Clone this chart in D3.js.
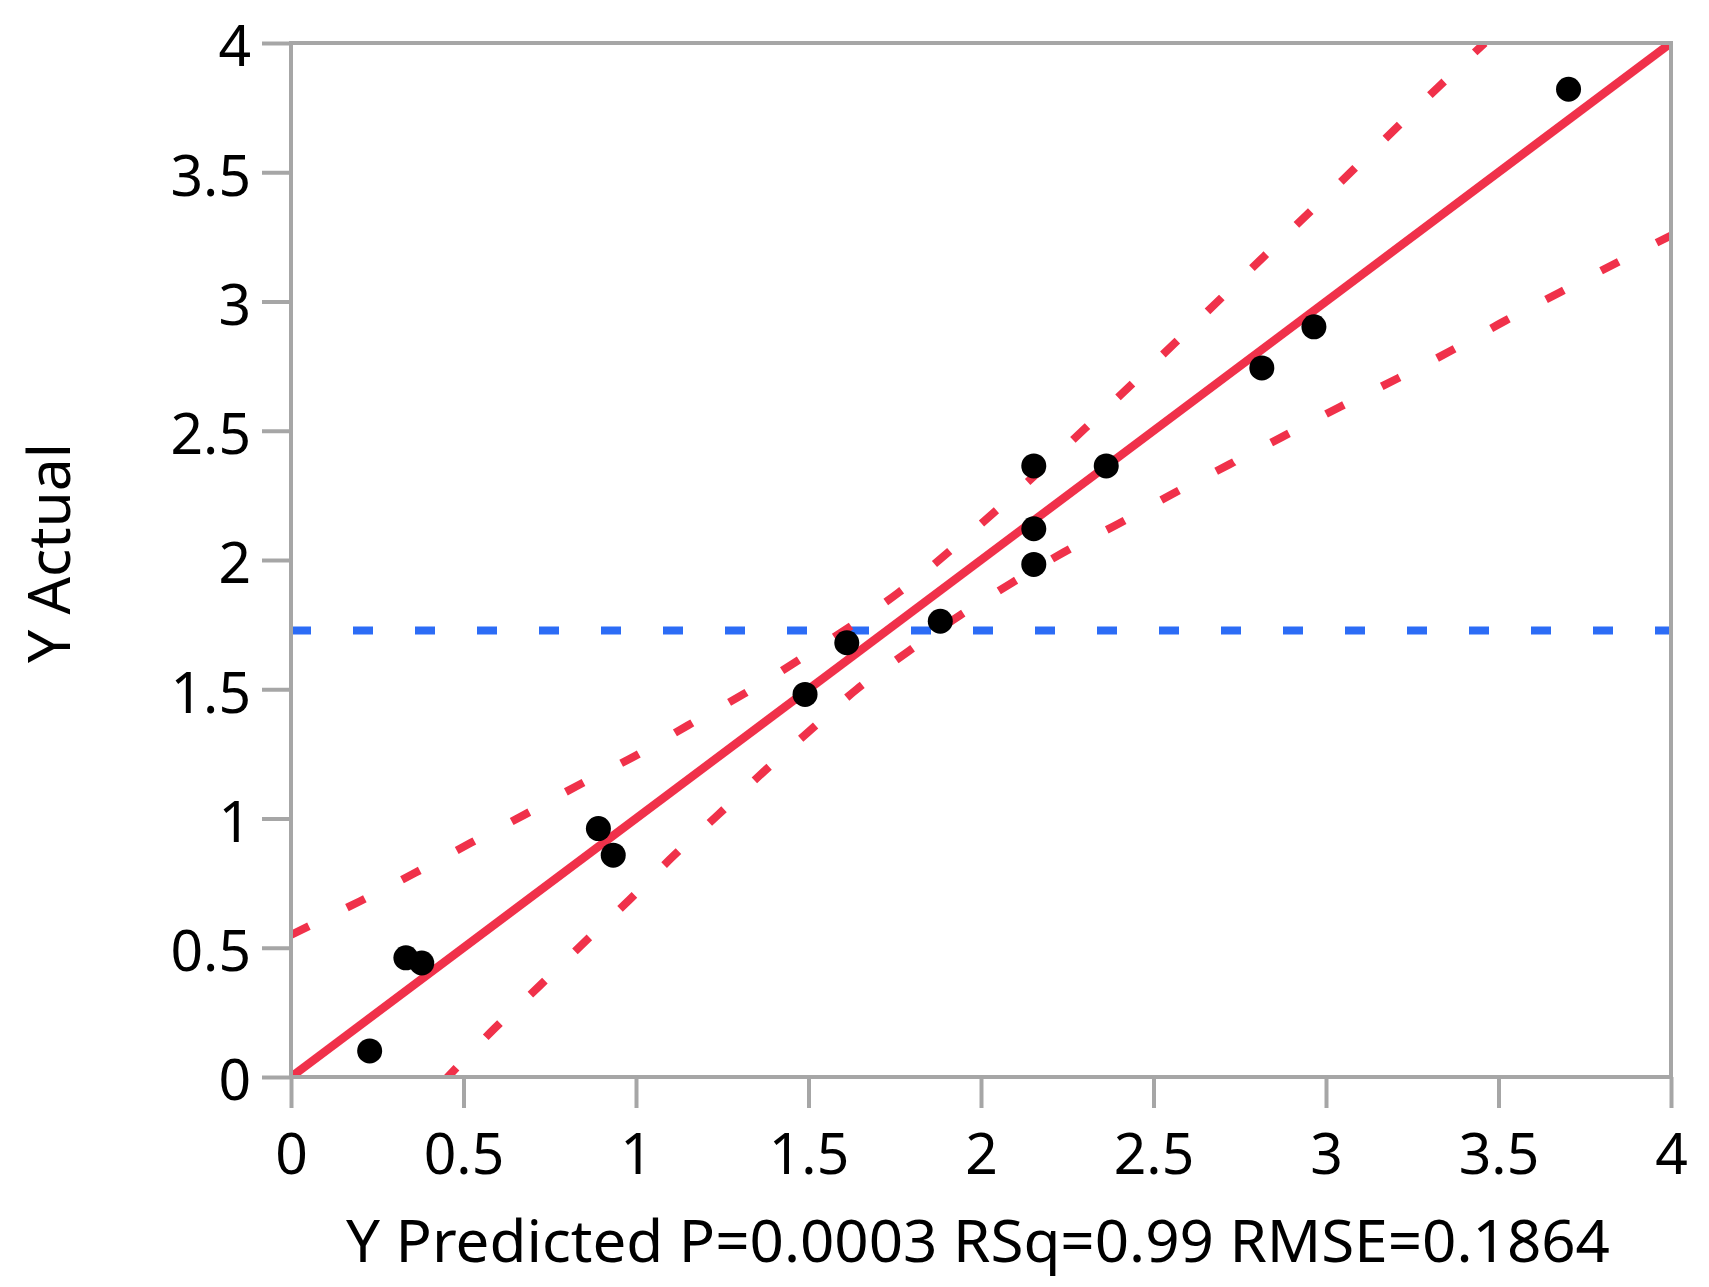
<!DOCTYPE html>
<html>
<head>
<meta charset="utf-8">
<script src="https://cdn.jsdelivr.net/npm/d3@7"></script>
<style>
  body { margin: 0; background: #fff; }
  text { font-family: "Noto Sans", "Open Sans", sans-serif; fill: #000; }
</style>
</head>
<body>
<script>
// actual by predicted plot (JMP style)

// ---- data ----
var predicted = [0.228, 0.333, 0.379, 0.891, 0.934, 1.490, 1.611, 1.882, 2.153, 2.153, 2.153, 2.363, 2.814, 2.965, 3.703];
var actual    = [0.101, 0.461, 0.441, 0.961, 0.858, 1.480, 1.680, 1.763, 2.364, 2.121, 1.983, 2.364, 2.743, 2.902, 3.821];

var meanActual = 1.727;

var fitX = [0, 4];
var fitY = [0, 4];

var upperX = [0.00, 0.20, 0.36, 0.52, 0.68, 0.83, 1.00, 1.15, 1.31, 1.46, 1.76, 2.04, 2.30, 2.56, 2.82, 3.08, 3.34, 3.46];
var upperY = [0.55, 0.68, 0.79, 0.905, 1.017, 1.127, 1.244, 1.36, 1.48, 1.603, 1.873, 2.187, 2.507, 2.837, 3.174, 3.511, 3.848, 4.00];

var lowerX = [0.44, 0.59, 0.72, 0.85, 0.98, 1.11, 1.24, 1.37, 1.51, 1.64, 1.79, 1.94, 2.24, 2.40, 2.56, 2.72, 2.88, 3.04, 3.21, 3.37, 3.52, 3.68, 3.84, 4.00];
var lowerY = [-0.02, 0.188, 0.352, 0.521, 0.684, 0.857, 1.017, 1.181, 1.347, 1.50, 1.647, 1.787, 2.03, 2.141, 2.259, 2.37, 2.481, 2.592, 2.704, 2.815, 2.926, 3.037, 3.148, 3.255];

var xTicks = [0, 0.5, 1, 1.5, 2, 2.5, 3, 3.5, 4];
var yTicks = [0, 0.5, 1, 1.5, 2, 2.5, 3, 3.5, 4];

var xTitle = 'Y Predicted P=0.0003 RSq=0.99 RMSE=0.1864';
var yTitle = 'Y Actual';

// ---- layout ----
var W = 1709, H = 1287;
var plot = {left: 291, right: 1671, top: 43, bottom: 1077};
var axisGrey = '#a6a6a6';
var red = '#f0314a';
var blue = '#2c6cf6';

var svg = d3.select('body').append('svg').attr('width', W).attr('height', H);

var x = d3.scaleLinear().domain([0, 4]).range([plot.left, plot.right]);
var y = d3.scaleLinear().domain([0, 4]).range([plot.bottom, plot.top]);

svg.append('clipPath').attr('id', 'clip')
  .append('rect')
  .attr('x', plot.left).attr('y', plot.top)
  .attr('width', plot.right - plot.left).attr('height', plot.bottom - plot.top);

var g = svg.append('g').attr('clip-path', 'url(#clip)');

// mean line
g.append('line')
  .attr('x1', plot.left).attr('x2', plot.right)
  .attr('y1', y(meanActual)).attr('y2', y(meanActual))
  .style('stroke', blue).style('stroke-width', 8)
  .style('stroke-dasharray', '20,42');

var line = d3.line().x(d => x(d[0])).y(d => y(d[1])).curve(d3.curveCatmullRom);

var upper = d3.zip(upperX, upperY);
var lower = d3.zip(lowerX, lowerY);

[upper, lower].forEach(function(pts){
  g.append('path')
    .attr('d', line(pts))
    .style('fill', 'none').style('stroke', red).style('stroke-width', 8)
    .style('stroke-dasharray', '20,42');
});

// fit line
g.append('path')
  .attr('d', d3.line().x(d => x(d[0])).y(d => y(d[1]))(d3.zip(fitX, fitY)))
  .style('fill', 'none').style('stroke', red).style('stroke-width', 8.5);

// points
g.selectAll('circle.pt').data(d3.zip(predicted, actual)).enter()
  .append('circle').attr('class', 'pt')
  .attr('cx', d => x(d[0])).attr('cy', d => y(d[1]))
  .attr('r', 12.5).style('fill', '#000');

// frame
svg.append('rect')
  .attr('x', plot.left).attr('y', plot.top)
  .attr('width', plot.right - plot.left).attr('height', plot.bottom - plot.top)
  .style('fill', 'none').style('stroke', axisGrey).style('stroke-width', 4);

// axes
var fmt = d => String(d);

var xAxis = svg.append('g').attr('transform', 'translate(0,' + plot.bottom + ')')
  .call(d3.axisBottom(x).tickValues(xTicks).tickFormat(fmt).tickSize(31).tickSizeOuter(0).tickPadding(20));
var yAxis = svg.append('g').attr('transform', 'translate(' + plot.left + ',0)')
  .call(d3.axisLeft(y).tickValues(yTicks).tickFormat(fmt).tickSize(29).tickSizeOuter(0).tickPadding(11));

[xAxis, yAxis].forEach(function(a){
  a.select('.domain').remove();
  a.selectAll('.tick line').style('stroke', axisGrey).style('stroke-width', 4);
  a.selectAll('.tick text').style('font-size', '57px').style('fill', '#000');
});
yAxis.selectAll('.tick text').attr('dy', '0.4em');
xAxis.selectAll('.tick text').attr('dy', '0.8em');

// titles
svg.append('text')
  .attr('x', (plot.left + plot.right) / 2 - 3).attr('y', 1262)
  .attr('text-anchor', 'middle')
  .style('font-size', '58px')
  .attr('textLength', 1264).attr('lengthAdjust', 'spacingAndGlyphs')
  .text(xTitle);

svg.append('text')
  .attr('transform', 'translate(70,553) rotate(-90)')
  .attr('text-anchor', 'middle')
  .style('font-size', '58px')
  .attr('textLength', 220).attr('lengthAdjust', 'spacingAndGlyphs')
  .text(yTitle);
</script>
</body>
</html>
